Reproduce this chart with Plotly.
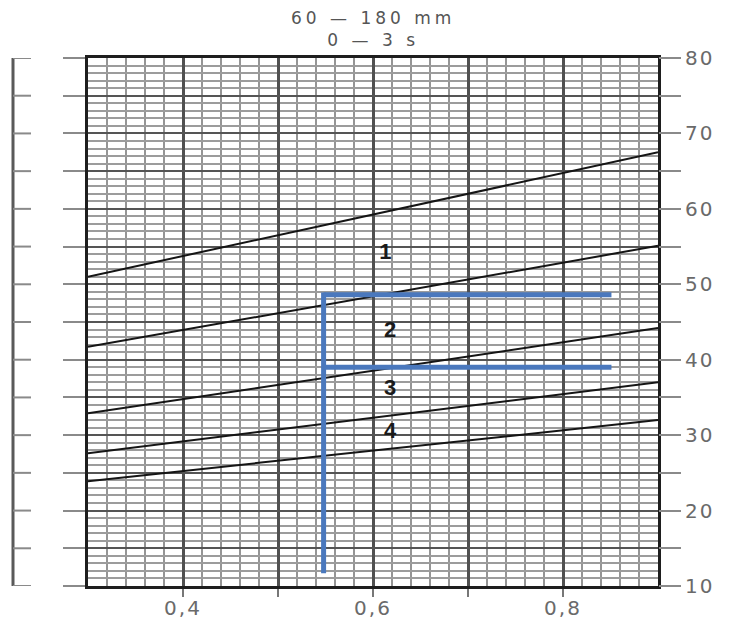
import plotly.graph_objects as go

# ---- data ----
x_ends = [0.3, 0.9]
curve_1 = [51.0, 67.5]
curve_2 = [41.7, 55.1]
curve_3 = [32.9, 44.2]
curve_4 = [27.6, 37.0]
curve_5 = [23.9, 32.0]
curves = [curve_1, curve_2, curve_3, curve_4, curve_5]

zone_labels = ["1", "2", "3", "4"]
zone_label_x = [0.613, 0.618, 0.618, 0.618]
zone_label_y = [54.1, 43.7, 36.0, 30.4]

# blue reading construction
blue_vx = [0.548, 0.548]
blue_vy = [11.7, 48.9]
blue_h_x = [0.548, 0.851]
blue_h1_y = [48.6, 48.6]
blue_h2_y = [39.0, 39.0]

x_tickvals = [0.4, 0.5, 0.6, 0.7, 0.8]
x_ticklabels = ["0,4", "", "0,6", "", "0,8"]
y_tickvals = [10, 15, 20, 25, 30, 35, 40, 45, 50, 55, 60, 65, 70, 75, 80]
y_ticklabels = [str(v) if v % 10 == 0 else "" for v in y_tickvals]

title_lines = ["60 \u2014 180 mm", "0 \u2014 3 s"]


def wide(t, sp):
    return '<span style="letter-spacing:%gpx">%s</span>' % (sp, t) if t else ""


fig = go.Figure()

for c in curves:
    fig.add_trace(go.Scatter(x=x_ends, y=c, mode="lines",
                             line=dict(color="#151515", width=2),
                             hoverinfo="skip", showlegend=False))

fig.add_trace(go.Scatter(x=zone_label_x, y=zone_label_y, mode="text",
                         text=["<b>%s</b>" % t for t in zone_labels],
                         textfont=dict(family="Liberation Sans, Arial", size=22, color="#1a1a1a"),
                         showlegend=False, hoverinfo="skip"))

blue = dict(color="#4a78bd", width=5)
fig.add_trace(go.Scatter(x=blue_vx, y=blue_vy, mode="lines", line=blue, showlegend=False))
fig.add_trace(go.Scatter(x=blue_h_x, y=blue_h1_y, mode="lines", line=blue, showlegend=False))
fig.add_trace(go.Scatter(x=blue_h_x, y=blue_h2_y, mode="lines", line=blue, showlegend=False))

# invisible trace to activate right axis
fig.add_trace(go.Scatter(x=[0.3], y=[10], yaxis="y2", mode="markers",
                         marker=dict(opacity=0), showlegend=False, hoverinfo="skip"))

tickfont = dict(family="DejaVu Sans", size=20, color="#6a6a6a")

# page body has an 8px default margin; compensate so the plot sits where it should
fig.update_layout(
    width=727, height=614,
    margin=dict(l=80, r=77, t=50, b=36, pad=0),
    paper_bgcolor="white", plot_bgcolor="white",
    xaxis=dict(range=[0.3, 0.9], tickmode="array", tickvals=x_tickvals,
               ticktext=[wide(t, 2) for t in x_ticklabels],
               ticks="outside", ticklen=8, tickcolor="#777777", tickwidth=2,
               ticklabelstandoff=-6,
               tickfont=tickfont, automargin=False,
               showgrid=True, gridcolor="#505050", gridwidth=2.5,
               minor=dict(dtick=0.02, tick0=0.3, showgrid=True, gridcolor="#959595", gridwidth=2),
               showline=True, linecolor="#1e1e1e", linewidth=3, mirror=True,
               zeroline=False, fixedrange=True),
    yaxis=dict(range=[10, 80], tickmode="array", tickvals=y_tickvals,
               ticktext=["" for _ in y_tickvals], automargin=False,
               ticks="outside", ticklen=22, tickcolor="#8a8a8a", tickwidth=2,
               showgrid=True, gridcolor="#555555", gridwidth=2,
               minor=dict(dtick=1, tick0=10, showgrid=True, gridcolor="#9c9c9c", gridwidth=2),
               showline=True, linecolor="#1e1e1e", linewidth=3, mirror=True,
               zeroline=False, fixedrange=True),
    yaxis2=dict(range=[10, 80], overlaying="y", side="right", tickmode="array",
                tickvals=y_tickvals, ticktext=[wide(t, 2) for t in y_ticklabels],
                automargin=False,
                ticks="outside", ticklen=22, tickcolor="#8a8a8a", tickwidth=2,
                tickfont=tickfont, showgrid=False, zeroline=False, showline=False,
                fixedrange=True),
)

# left external scale (paper-x outside plot area)
left_x0 = (13 - 88) / 570
left_x1 = (31 - 88) / 570
fig.add_shape(type="line", xref="paper", yref="y", x0=left_x0, x1=left_x0, y0=10, y1=80,
              line=dict(color="#5a5a5a", width=3))
for v in y_tickvals:
    fig.add_shape(type="line", xref="paper", yref="y", x0=left_x0, x1=left_x1, y0=v, y1=v,
                  line=dict(color="#8a8a8a", width=2))

fig.add_annotation(xref="paper", yref="paper", x=0.5, y=1 + 29 / 528,
                   text="<br>".join(wide(t, 4) for t in title_lines),
                   showarrow=False, yanchor="middle",
                   font=dict(family="DejaVu Sans", size=17, color="#555555"))

fig.write_html("out.html")
